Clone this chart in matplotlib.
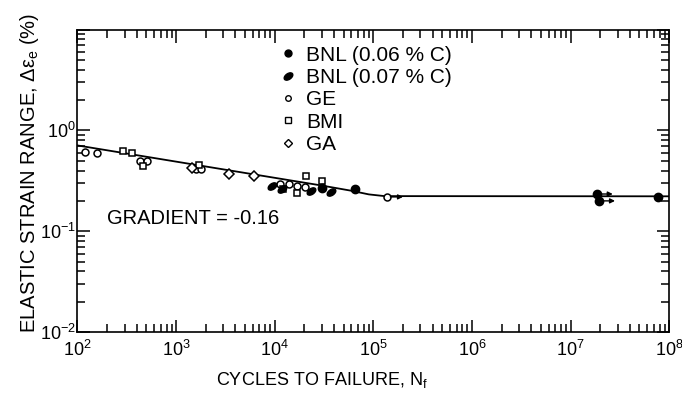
import numpy as np
import matplotlib
matplotlib.use("Agg")
import matplotlib.pyplot as plt
from matplotlib.lines import Line2D
from matplotlib.markers import MarkerStyle
from matplotlib.transforms import Affine2D

# ------------------------------------------
# DATA  (cycles to failure, elastic strain range %)
# ------------------------------------------
bnl06_n = [3.0e4, 6.5e4, 1.85e7, 1.95e7, 7.75e7]
bnl06_e = [0.269, 0.265, 0.234, 0.200, 0.219]
bnl06_runout = [False, False, True, True, True]

bnl07_n = [9.4e3, 1.19e4, 2.33e4, 3.72e4]
bnl07_e = [0.281, 0.262, 0.251, 0.245]

ge_n = [119, 158, 430, 507, 1590, 1790, 1.13e4, 1.40e4, 1.68e4, 2.03e4, 1.38e5]
ge_e = [0.612, 0.598, 0.498, 0.498, 0.413, 0.413, 0.294, 0.294, 0.281, 0.275, 0.219]
ge_runout = [False] * 10 + [True]

bmi_n = [289, 357, 461, 1706, 1.21e4, 1.68e4, 2.08e4, 3.01e4]
bmi_e = [0.627, 0.598, 0.445, 0.455, 0.262, 0.240, 0.354, 0.316]

ga_n = [1450, 3440, 6170]
ga_e = [0.425, 0.371, 0.354]

# best-fit curve: gradient -0.16 bending into a flat endurance level
fit_n = [1e2, 3e4, 6e4, 9e4, 1.3e5, 1e8]
fit_e = [0.71, 0.284, 0.252, 0.232, 0.223, 0.222]

y_ticks = [1e-2, 1e-1, 1e0, 1e1]
y_ticklabels = ["$10^{-2}$", "$10^{-1}$", "$10^{0}$", ""]
x_ticks = [1e2, 1e3, 1e4, 1e5, 1e6, 1e7, 1e8]
x_ticklabels = ["$10^{%d}$" % k for k in range(2, 9)]

# ------------------------------------------
# STYLE
# ------------------------------------------
family = "Liberation Sans"
plt.rcParams["font.family"] = [family, "DejaVu Sans"]
plt.rcParams["mathtext.fontset"] = "custom"
plt.rcParams["mathtext.rm"] = family
plt.rcParams["mathtext.it"] = family
plt.rcParams["mathtext.fallback"] = "stixsans"

fig = plt.figure(figsize=(6.82, 3.99), dpi=100)
ax = fig.add_axes([0.1136, 0.168, 0.8675, 0.7576])

ax.set_xscale("log")
ax.set_yscale("log")
ax.set_xlim(1e2, 1e8)
ax.set_ylim(1e-2, 1e1)

ax.plot(fit_n, fit_e, color="black", lw=1.3, zorder=2)

leaf = MarkerStyle("o", transform=Affine2D().scale(1.0, 0.6).rotate_deg(35))

ax.plot(ge_n, ge_e, ls="none", marker="o", ms=5, mfc="white", mec="black", mew=1.1, zorder=3)
ax.plot(bmi_n, bmi_e, ls="none", marker="s", ms=5, mfc="white", mec="black", mew=1.1, zorder=3)
ax.plot(ga_n, ga_e, ls="none", marker="D", ms=5, mfc="white", mec="black", mew=1.1, zorder=3)
ax.plot(bnl07_n, bnl07_e, ls="none", marker=leaf, ms=7, color="black", zorder=4)
ax.plot(bnl06_n, bnl06_e, ls="none", marker="o", ms=6, color="black", zorder=4)


def runout_arrows(ns, es, flags):
    for n, e, f in zip(ns, es, flags):
        if f:
            ax.annotate("", xy=(n * 1.45, e), xytext=(n * 1.08, e),
                        arrowprops=dict(arrowstyle="-|>", color="black", lw=1.0,
                                        mutation_scale=7, shrinkA=0, shrinkB=0),
                        zorder=5)


runout_arrows(ge_n, ge_e, ge_runout)
runout_arrows(bnl06_n, bnl06_e, bnl06_runout)

# ticks on all four sides, pointing in
ax.set_xticks(x_ticks, x_ticklabels)
ax.set_yticks(y_ticks, y_ticklabels)
ax.xaxis.set_minor_locator(matplotlib.ticker.LogLocator(base=10, subs=np.arange(2, 10), numticks=20))
ax.yaxis.set_minor_locator(matplotlib.ticker.LogLocator(base=10, subs=np.arange(2, 10), numticks=20))
ax.xaxis.set_minor_formatter(matplotlib.ticker.NullFormatter())
ax.yaxis.set_minor_formatter(matplotlib.ticker.NullFormatter())
ax.tick_params(which="both", direction="in", top=True, right=True, width=1.1)
ax.tick_params(which="major", length=9, labelsize=13)
ax.tick_params(axis="x", which="major", pad=6)
ax.tick_params(axis="y", which="major", pad=1)
ax.tick_params(which="minor", length=6)
for sp in ax.spines.values():
    sp.set_linewidth(1.2)

ax.set_xlabel("CYCLES TO FAILURE, $N_f$", fontsize=13)
ax.xaxis.set_label_coords(0.413, -0.126)
ax.xaxis.label.set_verticalalignment("top")
ax.set_ylabel(r"ELASTIC STRAIN RANGE, $\Delta\epsilon_e$ (%)", fontsize=14.5)
ax.yaxis.set_label_coords(-0.062, 0.526)

ax.text(199, 0.135, "GRADIENT = -0.16", fontsize=14.5, va="center", ha="left")

handles = [
    Line2D([], [], ls="none", marker="o", ms=5, color="black"),
    Line2D([], [], ls="none", marker=leaf, ms=7, color="black"),
    Line2D([], [], ls="none", marker="o", ms=4, mfc="white", mec="black", mew=1.0),
    Line2D([], [], ls="none", marker="s", ms=4, mfc="white", mec="black", mew=1.0),
    Line2D([], [], ls="none", marker="D", ms=4, mfc="white", mec="black", mew=1.0),
]
labels = ["BNL (0.06 % C)", "BNL (0.07 % C)", "GE", "BMI", "GA"]
ax.legend(handles, labels, loc="upper left", bbox_to_anchor=(0.3246, 0.975),
          frameon=False, fontsize=15, handlelength=1.0, handletextpad=0.35,
          labelspacing=0.16, borderaxespad=0)

fig.savefig("out.png", dpi=100)
